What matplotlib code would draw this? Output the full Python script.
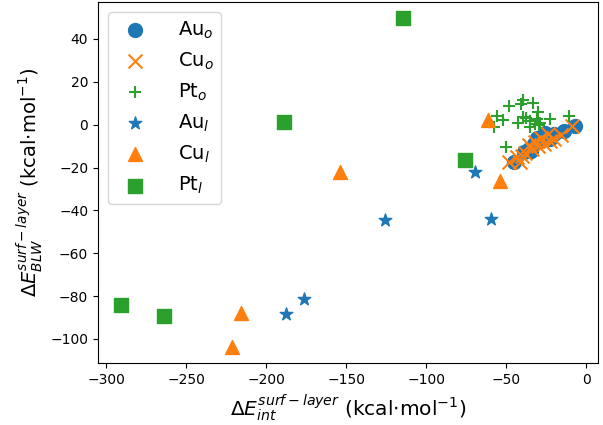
import matplotlib
matplotlib.use("Agg")
import matplotlib.pyplot as plt

# outer-layer points (o)
au_o_x = [-6.8, -14.1, -20.3, -22.5, -24.5, -26.0, -28.7, -30.5, -32.8, -34.5, -36.0, -39.1, -45.3]
au_o_y = [-0.5, -2.8, -4.4, -6.5, -5.9, -4.0, -7.4, -6.0, -9.0, -12.5, -11.3, -12.8, -17.5]

cu_o_x = [-8.9, -16.0, -20.0, -22.4, -24.0, -26.6, -28.0, -30.0, -32.0, -34.0, -36.0, -38.0, -40.1, -41.2, -43.0, -48.5]
cu_o_y = [-0.5, -5.0, -6.5, -7.4, -4.5, -9.0, -6.0, -10.0, -8.0, -11.5, -9.5, -13.0, -14.4, -17.5, -15.0, -17.5]

pt_o_x = [-48.1, -40.8, -39.7, -33.3, -55.8, -52.0, -57.4, -42.8, -39.5, -37.6, -30.1, -30.8,
          -35.3, -31.8, -28.7, -22.8, -10.6, -49.9, -34.9, -29.7]
pt_o_y = [8.8, 9.5, 11.4, 10.3, 4.1, 2.1, -1.3, 0.6, 3.7, 3.1, 5.7, 2.6,
          -1.3, 0.3, 1.0, 2.6, 4.1, -10.5, 1.8, -0.2]

# inner-layer points (l)
au_l_x = [-69.3, -125.6, -59.7, -176.1, -187.4]
au_l_y = [-22.1, -44.5, -43.9, -81.3, -88.3]

cu_l_x = [-61.1, -153.9, -54.1, -215.7, -221.5]
cu_l_y = [2.3, -21.9, -26.3, -87.9, -103.6]

pt_l_x = [-114.7, -188.9, -75.6, -290.8, -263.8]
pt_l_y = [49.6, 1.2, -16.7, -84.2, -89.3]

fig = plt.figure(figsize=(6.03, 4.25), dpi=100)
ax = fig.add_axes([98 / 603, 1 - 363 / 425, 500 / 603, 361 / 425])

ax.scatter(au_o_x, au_o_y, marker='o', s=100, color='C0', label='Au$_o$')
ax.scatter(cu_o_x, cu_o_y, marker='x', s=100, color='C1', label='Cu$_o$')
ax.scatter(pt_o_x, pt_o_y, marker='+', s=80, color='C2', label='Pt$_o$')
ax.scatter(au_l_x, au_l_y, marker='*', s=90, color='C0', label='Au$_l$')
ax.scatter(cu_l_x, cu_l_y, marker='^', s=100, color='C1', label='Cu$_l$')
ax.scatter(pt_l_x, pt_l_y, marker='s', s=100, color='C2', label='Pt$_l$')

ax.set_xlabel(r'$\Delta E_{int}^{surf-layer}$ (kcal$\cdot$mol$^{-1}$)', fontsize=14.5)
ax.set_ylabel(r'$\Delta E_{BLW}^{surf-layer}$ (kcal$\cdot$mol$^{-1}$)', fontsize=14)
ax.legend(loc='upper left', fontsize=14, handletextpad=1.2)

fig.savefig('out.png', dpi=100)
